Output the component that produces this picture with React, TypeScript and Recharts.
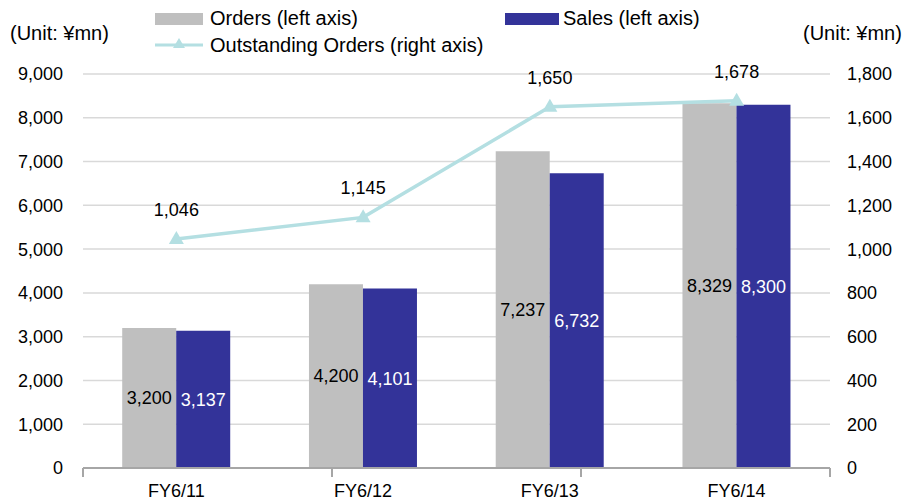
import React from 'react';
import { ComposedChart, Bar, Line, XAxis, YAxis, CartesianGrid, LabelList } from 'recharts';

const categories = ['FY6/11', 'FY6/12', 'FY6/13', 'FY6/14'];
const orders = [3200, 4200, 7237, 8329];
const sales = [3137, 4101, 6732, 8300];
const outstanding = [1046, 1145, 1650, 1678];
const leftTicks = [0, 1000, 2000, 3000, 4000, 5000, 6000, 7000, 8000, 9000];
const rightTicks = [0, 200, 400, 600, 800, 1000, 1200, 1400, 1600, 1800];
const boundaryTicks = categories.map((_, i) => i).concat([categories.length]);

const data = categories.map((c, i) => ({
  name: c,
  orders: orders[i],
  sales: sales[i],
  outstanding: outstanding[i],
}));

const W = 921;
const H = 503;
const MARGIN = { top: 74, right: 21, bottom: 0, left: 13 };
const YW = 70;

const FONT = '"Liberation Sans", Arial, sans-serif';
const GRAY = '#BFBFBF';
const BLUE = '#333399';
const LINE = '#B4DFE2';
const AXIS = '#A6A6A6';
const fmt = (v: number) => v.toLocaleString('en-US');

const Triangle = (props: any) => {
  const { cx, cy } = props;
  if (cx == null || cy == null) return null;
  return <path d={`M${cx},${cy - 8} L${cx + 7.5},${cy + 5} L${cx - 7.5},${cy + 5} Z`} fill={LINE} />;
};

const LineLabel = (props: any) => {
  const { x, y, value } = props;
  return (
    <text x={x} y={y - 29} textAnchor="middle" dominantBaseline="central" fontSize={18} fill="#000" fontFamily={FONT}>
      {fmt(value)}
    </text>
  );
};

const EmptyTick = () => <g />;

const legendText: React.CSSProperties = {
  position: 'absolute',
  fontSize: 20,
  fontFamily: FONT,
  color: '#000',
  lineHeight: '22px',
  whiteSpace: 'nowrap',
};

export default function App() {
  return (
    <div style={{ position: 'absolute', left: 0, top: 0, width: W, height: H, background: '#fff' }}>
      <ComposedChart
        width={W}
        height={H}
        data={data}
        margin={MARGIN}
        barCategoryGap="21%"
        barGap={0}
      >
        <CartesianGrid vertical={false} stroke="#D9D9D9" strokeWidth={1.5} yAxisId="left" xAxisId="cat" />
        <XAxis
          xAxisId={0}
          type="number"
          domain={[0, categories.length]}
          ticks={boundaryTicks}
          interval={0}
          height={1}
          axisLine={{ stroke: AXIS, strokeWidth: 2 }}
          tickLine={{ stroke: AXIS, strokeWidth: 2 }}
          tickSize={9}
          tick={<EmptyTick />}
          allowDataOverflow
        />
        <XAxis
          xAxisId="cat"
          dataKey="name"
          height={34}
          axisLine={false}
          tickLine={false}
          tickSize={0}
          tickMargin={15}
          interval={0}
          tick={{ fontSize: 18, fill: '#000', fontFamily: FONT }}
        />
        <YAxis
          yAxisId="left"
          orientation="left"
          width={YW}
          domain={[0, 9000]}
          ticks={leftTicks}
          tickFormatter={fmt}
          axisLine={false}
          tickLine={false}
          tickSize={0}
          tickMargin={20}
          tick={{ fontSize: 18, fill: '#000', fontFamily: FONT }}
        />
        <YAxis
          yAxisId="right"
          orientation="right"
          width={YW}
          domain={[0, 1800]}
          ticks={rightTicks}
          tickFormatter={fmt}
          axisLine={false}
          tickLine={false}
          tickSize={0}
          tickMargin={17}
          tick={{ fontSize: 18, fill: '#000', fontFamily: FONT, textAnchor: 'start' }}
        />
        <Bar xAxisId="cat" yAxisId="left" dataKey="orders" fill={GRAY} isAnimationActive={false}>
          <LabelList dataKey="orders" position="center" formatter={fmt} fill="#000" fontSize={18} fontFamily={FONT} />
        </Bar>
        <Bar xAxisId="cat" yAxisId="left" dataKey="sales" fill={BLUE} isAnimationActive={false}>
          <LabelList dataKey="sales" position="center" formatter={fmt} fill="#fff" fontSize={18} fontFamily={FONT} />
        </Bar>
        <Line
          xAxisId="cat"
          yAxisId="right"
          dataKey="outstanding"
          stroke={LINE}
          strokeWidth={3.5}
          dot={<Triangle />}
          activeDot={false}
          isAnimationActive={false}
          label={<LineLabel />}
        />
      </ComposedChart>

      <span style={{ ...legendText, left: 10, top: 22 }}>(Unit: ¥mn)</span>
      <span style={{ ...legendText, left: 803, top: 22 }}>(Unit: ¥mn)</span>

      <div style={{ position: 'absolute', left: 155, top: 13, width: 48, height: 12, background: GRAY }} />
      <span style={{ ...legendText, left: 210, top: 7 }}>Orders (left axis)</span>

      <div style={{ position: 'absolute', left: 505, top: 13, width: 54, height: 12, background: BLUE }} />
      <span style={{ ...legendText, left: 563, top: 7 }}>Sales (left axis)</span>

      <svg style={{ position: 'absolute', left: 155, top: 36 }} width={50} height={16}>
        <line x1={0} x2={48} y1={9} y2={9} stroke={LINE} strokeWidth={3} />
        <path d="M24,2 L30,12 L18,12 Z" fill={LINE} />
      </svg>
      <span style={{ ...legendText, left: 210, top: 34 }}>Outstanding Orders (right axis)</span>
    </div>
  );
}
